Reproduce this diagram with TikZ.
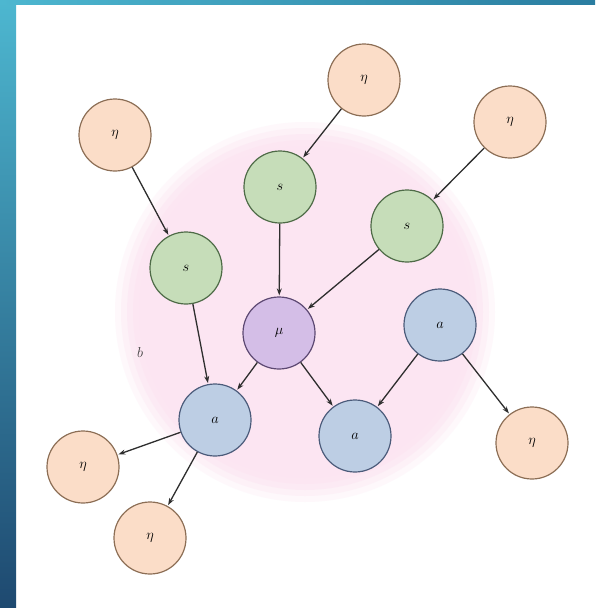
\documentclass[tikz,border=0pt]{standalone}
\usetikzlibrary{arrows.meta}
\definecolor{etafill}{HTML}{FBDDC8}
\definecolor{etaline}{HTML}{8C6E55}
\definecolor{sfill}{HTML}{C6DDB9}
\definecolor{sline}{HTML}{4E6B47}
\definecolor{mufill}{HTML}{D4BEE7}
\definecolor{muline}{HTML}{5C4872}
\definecolor{afill}{HTML}{BDCEE4}
\definecolor{aline}{HTML}{4B5B7A}
\definecolor{blobpink}{HTML}{FCE5F2}
\definecolor{bordtop}{HTML}{4DB7D0}
\definecolor{bordbot}{HTML}{1E4970}
\definecolor{bordright}{HTML}{2A7DA0}
\definecolor{arrowc}{HTML}{2E2E2E}
\tikzset{
  vnode/.style={circle, minimum size=72pt, inner sep=0pt, line width=1.2pt, font=\Large},
  etanode/.style={vnode, fill=etafill, draw=etaline},
  snode/.style={vnode, fill=sfill, draw=sline},
  munode/.style={vnode, fill=mufill, draw=muline},
  anode/.style={vnode, fill=afill, draw=aline},
  edge/.style={draw=arrowc, line width=1.3pt, -{Stealth[length=7pt,width=5pt]}, shorten >=1pt, shorten <=0pt}
}
\begin{document}
\begin{tikzpicture}[x=1pt,y=-1pt]
\useasboundingbox (0,0) rectangle (595,608);
\fill[white] (0,0) rectangle (595,608);
% border
\shade[top color=bordtop, bottom color=bordbot] (0,0) rectangle (16,608);
\shade[left color=bordtop, right color=bordright] (0,0) rectangle (595,4);
% pink blob
\foreach \r/\o in {190/0.25,184/0.35,178/0.5,172/0.7,166/1} {
  \fill[blobpink, opacity=\o] (305,312) circle[radius=\r];
}
\node[font=\Large, text=black!75] (blab) at (140,352) {$b$};
% nodes
\node[etanode] (e1) at (115,135) {$\eta$};
\node[etanode] (e2) at (364,80) {$\eta$};
\node[etanode] (e3) at (510,122) {$\eta$};
\node[snode] (s1) at (186,268) {$s$};
\node[snode] (s2) at (280,187) {$s$};
\node[snode] (s3) at (407,226) {$s$};
\node[munode] (mu) at (279,333) {$\mu$};
\node[anode] (a1) at (215,420) {$a$};
\node[anode] (a2) at (355,436) {$a$};
\node[anode] (a3) at (440,325) {$a$};
\node[etanode] (e4) at (83,467) {$\eta$};
\node[etanode] (e5) at (150,538) {$\eta$};
\node[etanode] (e6) at (532,443) {$\eta$};
% edges
\draw[edge] (e1) -- (s1);
\draw[edge] (e2) -- (s2);
\draw[edge] (e3) -- (s3);
\draw[edge] (s1) -- (a1);
\draw[edge] (s2) -- (mu);
\draw[edge] (s3) -- (mu);
\draw[edge] (mu) -- (a1);
\draw[edge] (mu) -- (a2);
\draw[edge] (a3) -- (a2);
\draw[edge] (a3) -- (e6);
\draw[edge] (a1) -- (e4);
\draw[edge] (a1) -- (e5);
\end{tikzpicture}
\end{document}
